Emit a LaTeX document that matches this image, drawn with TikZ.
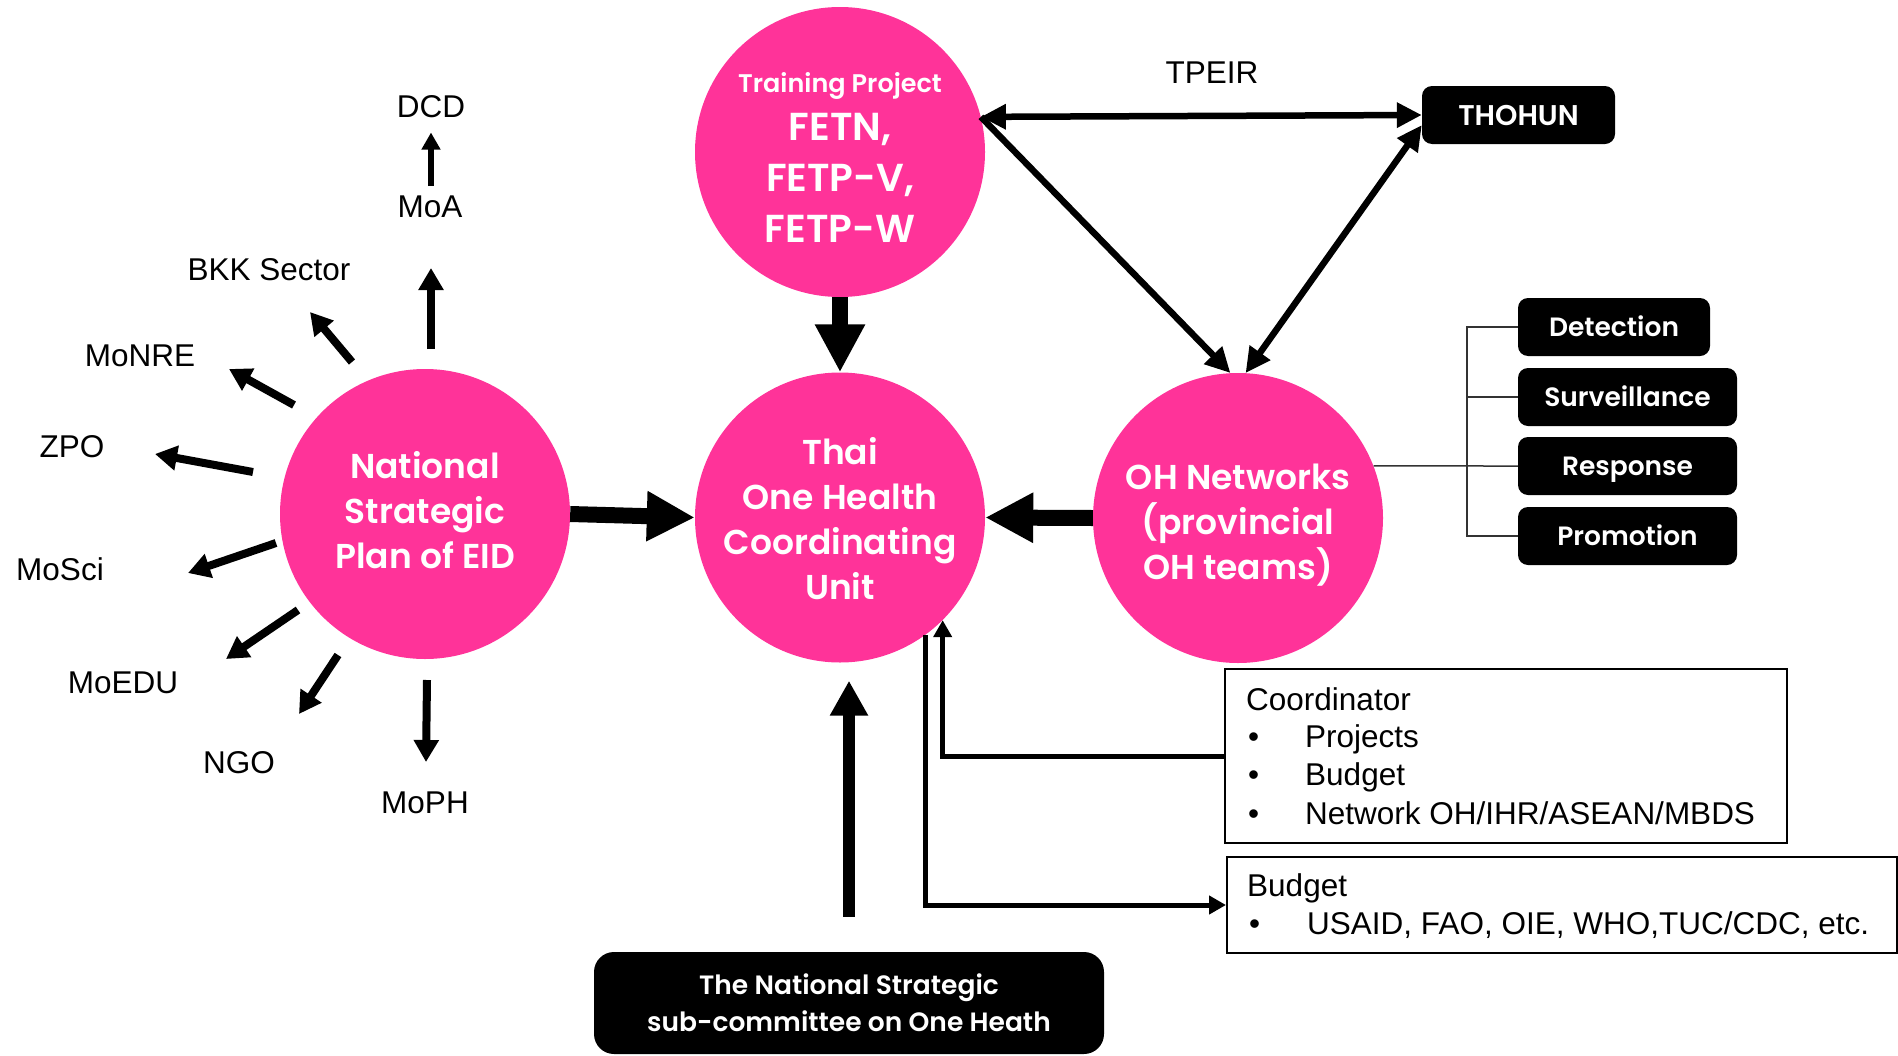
\documentclass[tikz,border=0pt]{standalone}
\usepackage{fontspec}
\setmainfont{Liberation Sans}
\newfontfamily\pop{Poppins}[BoldFont={Poppins SemiBold}]
\usetikzlibrary{arrows.meta,calc}
\definecolor{pinkc}{HTML}{FF3399}
\begin{document}
\begin{tikzpicture}[x=1pt,y=-1pt,
  circ/.style={circle,fill=pinkc,minimum size=290pt,inner sep=0pt},
  ctext/.style={text=white,align=center,inner sep=0pt,font=\pop\bfseries\fontsize{34.5}{45}\selectfont},
  bbox/.style={fill=black,rounded corners=10pt,text=white,align=center,inner sep=0pt,
    minimum height=58pt,font=\pop\bfseries\fontsize{26.5}{30}\selectfont},
  sbox/.style={bbox,text height=19pt,text depth=0pt},
  ibox/.style={draw=black,line width=2pt,inner sep=0pt},
  lbl/.style={font=\fontsize{31.5}{38}\selectfont,anchor=base,inner sep=0pt},
  ltxt/.style={font=\fontsize{31.5}{38}\selectfont,anchor=base west,inner sep=0pt},
  fat/.style={line width=16pt,-{Triangle[length=48pt,width=47pt]}},
  fatup/.style={line width=12pt,-{Triangle[length=35pt,width=36pt]}},
  med/.style={line width=6.5pt},
  medtip/.style={-{Triangle[length=25pt,width=24pt]}},
  meddbl/.style={{Triangle[length=25pt,width=24pt]}-{Triangle[length=25pt,width=24pt]}},
  sarr/.style={line width=8pt,-{Triangle[length=22pt,width=24pt]}},
  tarr/.style={line width=5.5pt,-{Triangle[length=17pt,width=18pt]}},
  conn/.style={line width=5pt,-{Triangle[length=17pt,width=18pt]}},
  tree/.style={line width=1.5pt,draw=black!80}]
\useasboundingbox (0,0) rectangle (1898,1055);

% circles
\node[circ] (train) at (840,152) {};
\node[circ] (thai) at (840,517.5) {};
\node[circ] (nat) at (425,514) {};
\node[circ] (oh) at (1238,518) {};
\node[ctext,font=\pop\bfseries\fontsize{39}{51}\selectfont] (traintext) at (840,158)
  {{\fontsize{25.5}{30}\selectfont Training Project}\\[-3pt]FETN,\\FETP-V,\\FETP-W};
\node[ctext] (thaitext) at (840,519) {Thai\\One Health\\Coordinating\\Unit};
\node[ctext] (nattext) at (425,510) {National\\Strategic\\Plan of EID};
\node[ctext] (ohtext) at (1238,525) {OH Networks\\(provincial\\OH teams)};

% black boxes
\node[sbox,minimum width=193pt,font=\pop\bfseries\fontsize{28.5}{30}\selectfont,text height=20pt] (thohun) at (1518.5,115) {THOHUN};
\node[sbox,minimum width=192pt] (det) at (1614,327) {Detection};
\node[sbox,minimum width=219pt] (surv) at (1627.5,397) {Surveillance};
\node[sbox,minimum width=219pt] (resp) at (1627.5,466) {Response};
\node[sbox,minimum width=219pt] (prom) at (1627.5,536) {Promotion};
\node[bbox,minimum width=510pt,minimum height=102pt,rounded corners=20pt,
  font=\pop\bfseries\fontsize{26.5}{37}\selectfont] (sub) at (849,1003)
  {The National Strategic\\sub-committee on One Heath};

% info boxes
\node[ibox,minimum width=562pt,minimum height=174pt] (coord) at (1506,756) {};
\node[ltxt] (c0) at (1246,710) {Coordinator};
\node[ltxt] (c1b) at (1248,747) {\textbullet};
\node[ltxt] (c1) at (1305,747) {Projects};
\node[ltxt] (c2b) at (1248,785) {\textbullet};
\node[ltxt] (c2) at (1305,785) {Budget};
\node[ltxt] (c3b) at (1248,824) {\textbullet};
\node[ltxt] (c3) at (1305,824) {Network OH/IHR/ASEAN/MBDS};
\node[ibox,minimum width=670pt,minimum height=96pt] (budget) at (1562,905) {};
\node[ltxt] (b0) at (1247,896) {Budget};
\node[ltxt] (b1b) at (1249,934) {\textbullet};
\node[ltxt] (b1) at (1307,934) {USAID, FAO, OIE, WHO,TUC/CDC, etc.};

% labels
\node[lbl] (tpeir) at (1212,83) {TPEIR};
\node[lbl] (dcd) at (431,117) {DCD};
\node[lbl] (moa) at (430,217) {MoA};
\node[lbl] (bkk) at (269,280) {BKK Sector};
\node[lbl] (monre) at (140,366) {MoNRE};
\node[lbl] (zpo) at (72,457) {ZPO};
\node[lbl] (mosci) at (60,580) {MoSci};
\node[lbl] (moedu) at (123,693) {MoEDU};
\node[lbl] (ngo) at (239,773) {NGO};
\node[lbl] (moph) at (425,813) {MoPH};

% main arrows
\draw[fat] (nat.east) -- (thai.west);
\draw[fat] (oh.west) -- (thai.east);
\draw[fat] (train.south) -- (thai.north);
\draw[fatup,shorten <=35pt,shorten >=18pt] (sub.north) -- (sub.north |- thai.south);

% triangle
\draw[med,meddbl] (train.14) -- (thohun.west);
\draw[med,medtip] (train.14) -- (oh.93);
\draw[med,meddbl] (thohun.186) -- (oh.87);

% tree
\draw[tree] (oh.21) -- (resp.west);
\draw[tree] (det.west) -- ++(-51,0) |- (prom.west);
\draw[tree] (surv.west) -- ++(-51,0);

% coordinator / budget connectors
\draw[conn] (coord.west) -| (thai.-45);
\draw[conn] (thai.-54.4) |- (budget.west);

% radial arrows
\coordinate (tMoA) at (431,349);  \coordinate (hMoA) at (431,268);
\coordinate (tBKK) at (352,362);  \coordinate (hBKK) at (310,312);
\coordinate (tNRE) at (294,405);  \coordinate (hNRE) at (229,369);
\coordinate (tZPO) at (253,472);  \coordinate (hZPO) at (155,454);
\coordinate (tSci) at (276,543);  \coordinate (hSci) at (188,573);
\coordinate (tEDU) at (298,610);  \coordinate (hEDU) at (226,659);
\coordinate (tNGO) at (338,655);  \coordinate (hNGO) at (299,714);
\coordinate (tMoPH) at (427,680); \coordinate (hMoPH) at (426,762);
\draw[sarr] (tMoA) -- (hMoA);
\draw[sarr] (tBKK) -- (hBKK);
\draw[sarr] (tNRE) -- (hNRE);
\draw[sarr] (tZPO) -- (hZPO);
\draw[sarr] (tSci) -- (hSci);
\draw[sarr] (tEDU) -- (hEDU);
\draw[sarr] (tNGO) -- (hNGO);
\draw[sarr] (tMoPH) -- (hMoPH);
\draw[tarr,shorten <=9pt,shorten >=15pt] (moa.north -| dcd) -- (dcd.south);
\end{tikzpicture}
\end{document}
